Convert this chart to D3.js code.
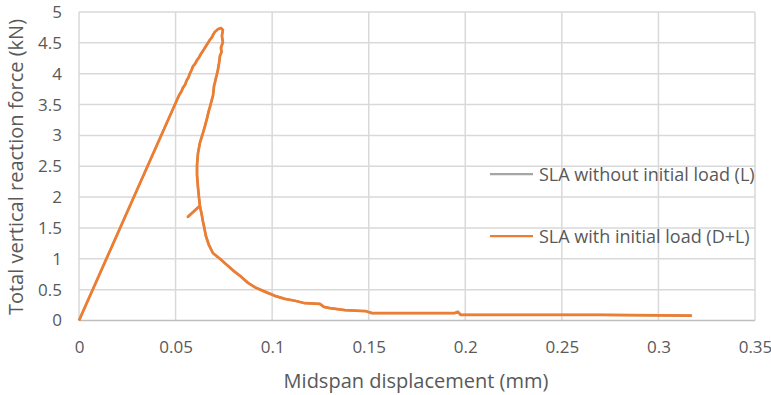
<!DOCTYPE html>
<html><head><meta charset="utf-8">
<script src="https://cdn.jsdelivr.net/npm/d3@7"></script>
<style>body{margin:0;background:#fff;} text{font-family:"Open Sans",sans-serif;}</style>
</head><body><svg id="c" width="771" height="395"></svg>
<script>
const xTicks = [0,0.05,0.1,0.15,0.2,0.25,0.3,0.35];
const yTicks = [0,0.5,1,1.5,2,2.5,3,3.5,4,4.5,5];
const seriesNames = ["SLA without initial load (L)", "SLA with initial load (D+L)"];
const seriesColors = ["#a5a5a5", "#ed7d31"];
const dispWith = [0,0.0518,0.0530,0.0538,0.0549,0.0559,0.0567,0.0575,0.0583,0.0590,0.0601,0.0611,0.0621,0.0631,0.0642,0.0652,0.0660,0.0668,0.0678,0.0688,0.0696,0.0704,0.0712,0.0719,0.0735,0.0745,0.0740,0.0745,0.0735,0.0738,0.0730,0.0725,0.0719,0.0714,0.0709,0.0704,0.0699,0.0694,0.0688,0.0683,0.0678,0.0673,0.0663,0.0652,0.0642,0.0633,0.0626,0.0616,0.0611,0.0611,0.0616,0.0621,0.0626,0.0564,0.0626,0.0637,0.0642,0.0647,0.0657,0.0673,0.0694,0.0730,0.0766,0.0802,0.0839,0.0875,0.0916,0.0968,0.1014,0.1066,0.1118,0.1170,0.1247,0.1268,0.1299,0.1377,0.1486,0.1517,0.1946,0.1962,0.1977,0.2697,0.3173];
const forceWith = [0,3.65,3.71,3.77,3.82,3.90,3.94,4.01,4.06,4.12,4.16,4.22,4.26,4.32,4.37,4.42,4.46,4.50,4.55,4.59,4.64,4.68,4.70,4.72,4.74,4.71,4.61,4.51,4.42,4.35,4.29,4.17,4.06,3.99,3.93,3.86,3.80,3.65,3.58,3.52,3.46,3.41,3.28,3.15,3.04,2.95,2.88,2.71,2.52,2.36,2.16,2.00,1.86,1.68,1.86,1.69,1.60,1.53,1.37,1.22,1.09,1.00,0.90,0.80,0.71,0.61,0.53,0.46,0.40,0.35,0.32,0.28,0.27,0.22,0.20,0.17,0.15,0.12,0.12,0.14,0.09,0.09,0.08];
const dispWithout = dispWith.slice();
const forceWithout = forceWith.slice();

const svg = d3.select("#c");
const m = {l:79, r:755, t:12, b:320.5};
const x = d3.scaleLinear().domain([0,0.35]).range([m.l, m.r]);
const y = d3.scaleLinear().domain([0,5]).range([m.b, m.t]);
const grey = "#595959";

svg.append("g").selectAll("line.h").data(yTicks.filter(d=>d>0)).join("line")
  .attr("x1", m.l).attr("x2", m.r).attr("y1", d=>y(d)).attr("y2", d=>y(d))
  .attr("stroke","#d9d9d9").attr("stroke-width",1.5);
svg.append("g").selectAll("line.v").data(xTicks).join("line")
  .attr("y1", m.t).attr("y2", m.b).attr("x1", d=>x(d)).attr("x2", d=>x(d))
  .attr("stroke","#d9d9d9").attr("stroke-width",1.5);
svg.append("line").attr("x1",m.l).attr("x2",m.r).attr("y1",y(0)).attr("y2",y(0))
  .attr("stroke","#bfbfbf").attr("stroke-width",1.5);

const xAxis = d3.axisBottom(x).tickValues(xTicks).tickSize(0).tickPadding(20).tickFormat(d=>d3.format("")(d));
const gx = svg.append("g").attr("transform",`translate(0,${m.b})`).call(xAxis);
gx.select(".domain").remove();
gx.selectAll("text").attr("fill",grey).style("font-size","17px").style("font-family","'Open Sans',sans-serif");
const yAxis = d3.axisLeft(y).tickValues(yTicks).tickSize(0).tickPadding(17).tickFormat(d=>d3.format("")(d));
const gy = svg.append("g").attr("transform",`translate(${m.l},0)`).call(yAxis);
gy.select(".domain").remove();
gy.selectAll("text").attr("fill",grey).style("font-size","17px").style("font-family","'Open Sans',sans-serif");

svg.append("text").attr("x",416).attr("y",388).attr("text-anchor","middle")
  .attr("fill",grey).style("font-size","20px").text("Midspan displacement (mm)");
svg.append("text").attr("transform","translate(23,167) rotate(-90)").attr("text-anchor","middle")
  .attr("fill",grey).style("font-size","20px").text("Total vertical reaction force (kN)");

const line = d3.line().x(d=>x(d[0])).y(d=>y(d[1]));
const s1 = dispWithout.map((d,i)=>[d, forceWithout[i]]);
const s2 = dispWith.map((d,i)=>[d, forceWith[i]]);
svg.append("path").attr("d", line(s1)).attr("fill","none").attr("stroke",seriesColors[0]).attr("stroke-width",2.25);
svg.append("path").attr("d", line(s2)).attr("fill","none").attr("stroke",seriesColors[1]).attr("stroke-width",2.75).attr("stroke-linejoin","round");

const lg = svg.append("g");
[174, 236].forEach((ly,i)=>{
  lg.append("line").attr("x1",490).attr("x2",533).attr("y1",ly).attr("y2",ly)
    .attr("stroke",seriesColors[i]).attr("stroke-width",2.25);
  lg.append("text").attr("x",539).attr("y",ly+6.5).attr("fill",grey).style("font-size","18px").text(seriesNames[i]);
});
</script></body></html>
